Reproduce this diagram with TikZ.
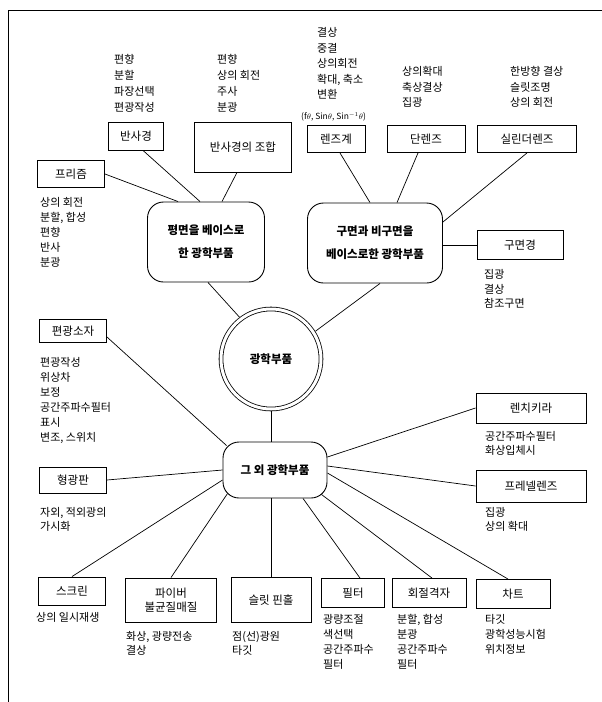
\documentclass[tikz,border=0pt]{standalone}
\usepackage{fontspec}
\setmainfont{Noto Sans CJK KR}
\begin{document}
\begin{tikzpicture}[x=1pt,y=-1pt,
  box/.style={draw,line width=0.9pt,inner sep=0pt,font=\fontsize{11.5}{14.5}\selectfont,align=center},
  rbox/.style={draw,line width=0.9pt,rounded corners=16pt,inner sep=0pt,font=\fontsize{11.5}{23}\selectfont\bfseries,align=center},
  lst/.style={anchor=north west,inner sep=0pt,align=left,font=\fontsize{11}{15.5}\selectfont},
  conn/.style={line width=0.7pt}]
\useasboundingbox (0,0) rectangle (602,702);
% frame
\coordinate (ftl) at (8,10);
\coordinate (ftr) at (602,10);
\coordinate (fbl) at (8,702);
\draw[line width=0.9pt] (ftr) -- (ftl) -- (fbl);

% central
\node[draw,circle,line width=0.8pt,double,double distance=3pt,minimum size=100pt,outer sep=2.3pt,inner sep=0pt,font=\fontsize{11.5}{14}\selectfont\bfseries] (core) at (271,359) {광학부품};

% upper rounded
\node[rbox,minimum width=117pt,minimum height=80pt] (plane) at (206,242) {평면을 베이스로\\한 광학부품};
\node[rbox,minimum width=135pt,minimum height=80pt] (sphere) at (375,243) {구면과 비구면을\\베이스로한 광학부품};
\node[rbox,minimum width=104pt,minimum height=56pt] (other) at (275,470) {그 외 광학부품};

% top boxes
\node[box,minimum width=55pt,minimum height=28pt] (fansa) at (136,136) {반사경};
\node[box,minimum width=97pt,minimum height=50pt] (josang) at (243,147) {반사경의 조합};
\node[box,minimum width=67pt,minimum height=27pt] (prism) at (71,174) {프리즘};
\node[box,minimum width=58pt,minimum height=27pt] (lensg) at (336,139) {렌즈계};
\node[box,minimum width=78pt,minimum height=27pt] (dan) at (426,139) {단렌즈};
\node[box,minimum width=99pt,minimum height=27pt] (cyl) at (527,139) {실린더렌즈};
\node[box,minimum width=86pt,minimum height=29pt] (mirror) at (520,245) {구면경};

% lower boxes
\node[box,minimum width=67pt,minimum height=23pt] (polar) at (73,331) {편광소자};
\node[box,minimum width=67pt,minimum height=26pt] (fluor) at (73,480) {형광판};
\node[box,minimum width=67pt,minimum height=28pt] (screen) at (72,591) {스크린};
\node[box,minimum width=91pt,minimum height=44pt] (fiber) at (171,600) {파이버\\불균질매질};
\node[box,minimum width=80pt,minimum height=45pt] (slit) at (271,600) {슬릿 핀홀};
\node[box,minimum width=63pt,minimum height=29pt] (filter) at (353,593) {필터};
\node[box,minimum width=74pt,minimum height=29pt] (grating) at (429,593) {회절격자};
\node[box,minimum width=74pt,minimum height=29pt] (chart) at (513,594) {차트};
\node[box,minimum width=110pt,minimum height=30pt] (lenti) at (531,408) {렌치키라};
\node[box,minimum width=110pt,minimum height=32pt] (fresnel) at (531,486) {프레넬렌즈};

% lists
\node[lst,font=\fontsize{11}{16}\selectfont] (lfansa) at (114,54.5) {편향\\분할\\파장선택\\편광작성};
\node[lst,font=\fontsize{11}{16}\selectfont] (ljosang) at (217,54.5) {편향\\상의 회전\\주사\\분광};
\node[lst] (llensg) at (317,27.5) {결상\\중결\\상의회전\\확대, 축소\\변환};
\node[anchor=west,inner sep=0pt,font=\fontsize{8.5}{10}\selectfont] (ltheta) at (301,117) {(f$\theta$, Sin$\theta$, Sin$^{-1}\theta$)};
\node[lst] (ldan) at (402,66.5) {상의확대\\축상결상\\집광};
\node[lst] (lcyl) at (510,66.5) {한방향 결상\\슬릿조명\\상의 회전};
\node[lst,font=\fontsize{11}{15}\selectfont] (lprism) at (40,197.5) {상의 회전\\분할, 합성\\편향\\반사\\분광};
\node[lst,font=\fontsize{11}{14.5}\selectfont] (lmirror) at (484,269.5) {집광\\결상\\참조구면};
\node[lst,font=\fontsize{11}{15}\selectfont] (lpolar) at (40,357.5) {편광작성\\위상차\\보정\\공간주파수필터\\표시\\변조, 스위치};
\node[lst,font=\fontsize{11}{14}\selectfont] (lfluor) at (40,507.5) {자외, 적외광의\\가시화};
\node[lst,font=\fontsize{11}{13.5}\selectfont] (llenti) at (485,431.5) {공간주파수필터\\화상입체시};
\node[lst,font=\fontsize{11}{14}\selectfont] (lfresnel) at (485,507.5) {집광\\상의 확대};
\node[lst] (lscreen) at (36,612.5) {상의 일시재생};
\node[lst,font=\fontsize{11}{13.5}\selectfont] (lfiber) at (126,631.5) {화상, 광량전송\\결상};
\node[lst,font=\fontsize{11}{13.5}\selectfont] (lslit) at (232,631.5) {점(선)광원\\타깃};
\node[lst,font=\fontsize{11}{15}\selectfont] (lfilter) at (323,614.5) {광량조절\\색선택\\공간주파수\\필터};
\node[lst,font=\fontsize{11}{15}\selectfont] (lgrating) at (397,614.5) {분할, 합성\\분광\\공간주파수\\필터};
\node[lst,font=\fontsize{11}{15}\selectfont] (lchart) at (485,614.5) {타깃\\광학성능시험\\위치정보};

% connectors upper left
\draw[conn] ([xshift=7pt]fansa.south) -- ([xshift=-6pt]plane.north);
\draw[conn] ([xshift=-6pt]josang.south) -- ([xshift=16pt]plane.north);
\draw[conn] (prism.east) -- ([xshift=-28pt]plane.north);
% connectors upper right
\draw[conn] ([xshift=4pt]lensg.south) -- ([xshift=-5pt]sphere.north);
\draw[conn] ([xshift=-8pt]dan.south) -- ([xshift=22pt]sphere.north);
\draw[conn] (cyl.south) -- ([yshift=21pt]sphere.east);
\draw[conn] (mirror.west) -- (mirror.west -| sphere.east);
% to core
\draw[conn] ([xshift=2pt]plane.south) -- (core.127);
\draw[conn] ([xshift=5pt]sphere.south) -- (core.32);
\draw[conn] (core.south) -- (core.south |- other.north);
% lower connectors
\draw[conn] ([yshift=-6pt]polar.east) -- ([shift={(4pt,-4pt)}]other.north west);
\draw[conn] (fluor.east) -- (other.west);
\draw[conn] (screen.north) -- ([yshift=-10pt]other.west);
\draw[conn] (fiber.north) -- ([shift={(5pt,5pt)}]other.south west);
\draw[conn] (slit.north) -- (slit.north |- other.south);
\draw[conn] ([xshift=7pt]filter.north) -- ([xshift=28pt]other.south);
\draw[conn] ([xshift=3pt]grating.north) -- ([shift={(-6pt,4pt)}]other.south east);
\draw[conn] ([xshift=-5pt]chart.north) -- ([yshift=-3pt]other.east);
\draw[conn] (lenti.west) -- ([yshift=13pt]other.east);
\draw[conn] (fresnel.west) -- ([yshift=4pt]other.east);
\end{tikzpicture}
\end{document}
